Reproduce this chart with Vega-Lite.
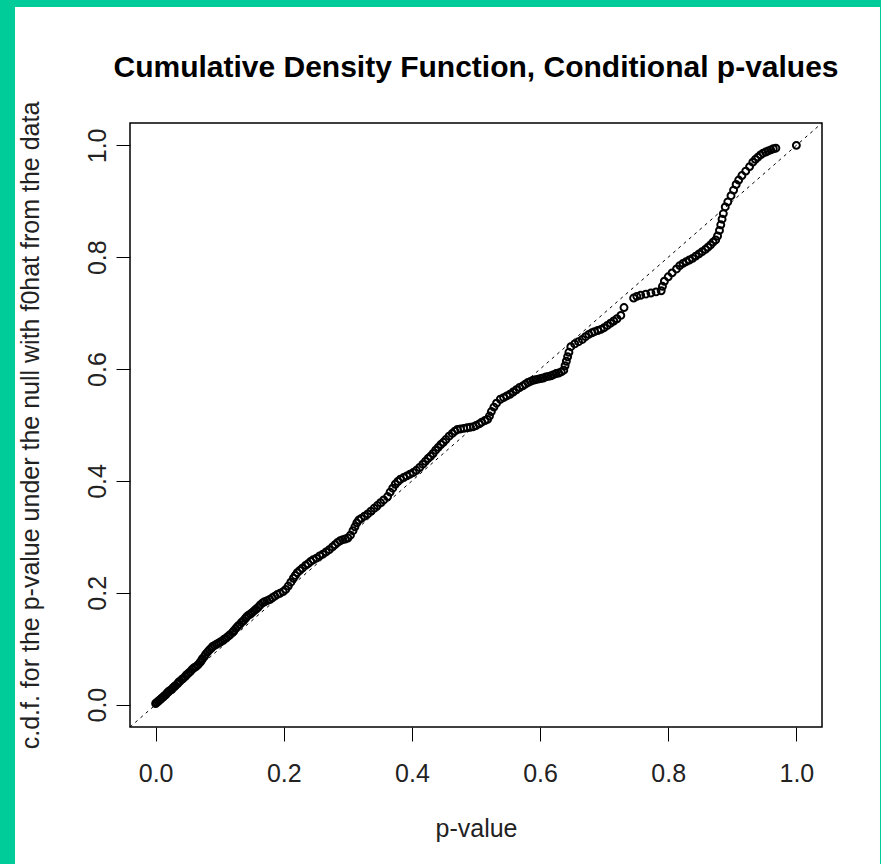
{
  "$schema": "https://vega.github.io/schema/vega-lite/v6.json",
  "autosize": {"type": "none"},
  "width": 692,
  "height": 604,
  "padding": {"left": 130, "top": 123, "right": 59, "bottom": 137},
  "background": "#00CC99",
  "title": {
    "text": "Cumulative Density Function, Conditional p-values",
    "font": "Liberation Sans",
    "fontSize": 30,
    "fontWeight": "bold",
    "color": "#000000",
    "anchor": "middle",
    "baseline": "middle",
    "offset": -91,
    "zindex": 1
  },
  "config": {
    "view": {"stroke": null},
    "axis": {"zindex": 1}
  },
  "datasets": {
    "pts": [
      {"p":0.000,"c":0.002},{"p":0.002,"c":0.004},{"p":0.004,"c":0.006},{"p":0.006,"c":0.008},{"p":0.008,"c":0.010},
      {"p":0.010,"c":0.012},{"p":0.012,"c":0.014},{"p":0.014,"c":0.016},{"p":0.016,"c":0.018},{"p":0.018,"c":0.021},
      {"p":0.020,"c":0.023},{"p":0.022,"c":0.025},{"p":0.025,"c":0.027},{"p":0.027,"c":0.030},{"p":0.029,"c":0.032},
      {"p":0.031,"c":0.034},{"p":0.034,"c":0.037},{"p":0.036,"c":0.040},{"p":0.038,"c":0.042},{"p":0.041,"c":0.045},
      {"p":0.043,"c":0.047},{"p":0.046,"c":0.050},{"p":0.048,"c":0.053},{"p":0.051,"c":0.056},{"p":0.054,"c":0.059},
      {"p":0.057,"c":0.063},{"p":0.060,"c":0.066},{"p":0.063,"c":0.068},{"p":0.066,"c":0.071},{"p":0.069,"c":0.075},
      {"p":0.071,"c":0.078},{"p":0.073,"c":0.082},{"p":0.076,"c":0.086},{"p":0.078,"c":0.090},{"p":0.081,"c":0.094},
      {"p":0.084,"c":0.098},{"p":0.087,"c":0.101},{"p":0.089,"c":0.104},{"p":0.092,"c":0.106},{"p":0.095,"c":0.108},
      {"p":0.098,"c":0.110},{"p":0.101,"c":0.112},{"p":0.104,"c":0.114},{"p":0.107,"c":0.117},{"p":0.110,"c":0.119},
      {"p":0.113,"c":0.122},{"p":0.116,"c":0.125},{"p":0.120,"c":0.129},{"p":0.122,"c":0.132},{"p":0.125,"c":0.136},
      {"p":0.128,"c":0.140},{"p":0.131,"c":0.143},{"p":0.134,"c":0.147},{"p":0.137,"c":0.150},{"p":0.140,"c":0.154},
      {"p":0.142,"c":0.157},{"p":0.145,"c":0.160},{"p":0.148,"c":0.162},{"p":0.151,"c":0.165},{"p":0.154,"c":0.168},
      {"p":0.157,"c":0.171},{"p":0.160,"c":0.174},{"p":0.163,"c":0.178},{"p":0.167,"c":0.182},{"p":0.170,"c":0.184},
      {"p":0.174,"c":0.186},{"p":0.178,"c":0.188},{"p":0.182,"c":0.191},{"p":0.186,"c":0.194},{"p":0.190,"c":0.197},
      {"p":0.194,"c":0.199},{"p":0.199,"c":0.202},
      {"p":0.203,"c":0.206},{"p":0.207,"c":0.212},{"p":0.211,"c":0.219},{"p":0.215,"c":0.226},{"p":0.218,"c":0.231},
      {"p":0.221,"c":0.236},{"p":0.225,"c":0.240},{"p":0.229,"c":0.244},{"p":0.234,"c":0.249},{"p":0.238,"c":0.252},
      {"p":0.242,"c":0.256},{"p":0.246,"c":0.259},{"p":0.251,"c":0.262},{"p":0.256,"c":0.266},{"p":0.261,"c":0.269},
      {"p":0.266,"c":0.273},{"p":0.271,"c":0.277},{"p":0.276,"c":0.282},{"p":0.280,"c":0.286},{"p":0.284,"c":0.290},
      {"p":0.288,"c":0.293},{"p":0.292,"c":0.295},{"p":0.296,"c":0.296},{"p":0.300,"c":0.298},{"p":0.304,"c":0.303},
      {"p":0.308,"c":0.311},{"p":0.311,"c":0.318},{"p":0.314,"c":0.325},{"p":0.317,"c":0.330},{"p":0.321,"c":0.333},
      {"p":0.326,"c":0.337},{"p":0.331,"c":0.341},{"p":0.336,"c":0.346},{"p":0.341,"c":0.351},{"p":0.346,"c":0.356},
      {"p":0.351,"c":0.361},{"p":0.356,"c":0.366},{"p":0.362,"c":0.372},{"p":0.366,"c":0.380},{"p":0.370,"c":0.387},
      {"p":0.374,"c":0.394},{"p":0.378,"c":0.399},{"p":0.382,"c":0.403},{"p":0.387,"c":0.406},{"p":0.392,"c":0.409},
      {"p":0.397,"c":0.412},{"p":0.402,"c":0.415},{"p":0.407,"c":0.419},{"p":0.412,"c":0.424},{"p":0.417,"c":0.430},
      {"p":0.421,"c":0.435},{"p":0.425,"c":0.440},{"p":0.429,"c":0.444},{"p":0.433,"c":0.449},{"p":0.437,"c":0.455},
      {"p":0.441,"c":0.460},{"p":0.445,"c":0.465},{"p":0.449,"c":0.469},{"p":0.453,"c":0.474},{"p":0.458,"c":0.480},
      {"p":0.463,"c":0.485},{"p":0.467,"c":0.489},{"p":0.471,"c":0.492},{"p":0.476,"c":0.493},{"p":0.481,"c":0.494},
      {"p":0.486,"c":0.495},{"p":0.491,"c":0.496},{"p":0.496,"c":0.497},{"p":0.500,"c":0.499},{"p":0.505,"c":0.502},
      {"p":0.509,"c":0.505},{"p":0.514,"c":0.508},{"p":0.518,"c":0.510},{"p":0.521,"c":0.516},{"p":0.524,"c":0.524},
      {"p":0.528,"c":0.532},{"p":0.532,"c":0.539},{"p":0.538,"c":0.546},{"p":0.543,"c":0.549},{"p":0.548,"c":0.552},
      {"p":0.553,"c":0.555},{"p":0.558,"c":0.559},{"p":0.563,"c":0.563},{"p":0.568,"c":0.567},{"p":0.573,"c":0.570},
      {"p":0.577,"c":0.573},{"p":0.581,"c":0.576},
      {"p":0.585,"c":0.578},{"p":0.589,"c":0.580},{"p":0.593,"c":0.581},{"p":0.597,"c":0.582},{"p":0.601,"c":0.583},
      {"p":0.605,"c":0.584},{"p":0.609,"c":0.586},{"p":0.613,"c":0.587},{"p":0.617,"c":0.588},{"p":0.621,"c":0.590},
      {"p":0.625,"c":0.592},{"p":0.629,"c":0.593},{"p":0.633,"c":0.595},{"p":0.637,"c":0.598},{"p":0.639,"c":0.606},
      {"p":0.641,"c":0.614},{"p":0.643,"c":0.622},{"p":0.645,"c":0.630},{"p":0.648,"c":0.640},{"p":0.654,"c":0.645},
      {"p":0.660,"c":0.649},{"p":0.666,"c":0.653},{"p":0.671,"c":0.658},{"p":0.676,"c":0.662},{"p":0.681,"c":0.665},
      {"p":0.685,"c":0.667},{"p":0.690,"c":0.669},{"p":0.695,"c":0.671},{"p":0.700,"c":0.674},{"p":0.705,"c":0.678},
      {"p":0.710,"c":0.682},{"p":0.715,"c":0.686},{"p":0.720,"c":0.690},{"p":0.726,"c":0.696},{"p":0.731,"c":0.710},
      {"p":0.746,"c":0.727},{"p":0.751,"c":0.730},{"p":0.757,"c":0.732},{"p":0.765,"c":0.734},{"p":0.773,"c":0.736},
      {"p":0.781,"c":0.738},{"p":0.789,"c":0.740},{"p":0.791,"c":0.748},{"p":0.794,"c":0.757},{"p":0.800,"c":0.765},
      {"p":0.806,"c":0.772},{"p":0.813,"c":0.779},{"p":0.818,"c":0.785},{"p":0.823,"c":0.789},{"p":0.828,"c":0.792},
      {"p":0.833,"c":0.795},{"p":0.838,"c":0.798},{"p":0.843,"c":0.802},{"p":0.848,"c":0.806},{"p":0.853,"c":0.810},
      {"p":0.858,"c":0.814},{"p":0.862,"c":0.818},{"p":0.866,"c":0.822},{"p":0.870,"c":0.827},{"p":0.874,"c":0.831},
      {"p":0.877,"c":0.838},{"p":0.880,"c":0.848},{"p":0.882,"c":0.858},{"p":0.884,"c":0.868},{"p":0.886,"c":0.878},
      {"p":0.889,"c":0.890},{"p":0.893,"c":0.899},{"p":0.898,"c":0.910},{"p":0.902,"c":0.920},{"p":0.906,"c":0.930},
      {"p":0.910,"c":0.938},{"p":0.915,"c":0.946},{"p":0.921,"c":0.954},{"p":0.927,"c":0.962},{"p":0.932,"c":0.970},
      {"p":0.936,"c":0.975},{"p":0.940,"c":0.979},{"p":0.944,"c":0.983},{"p":0.948,"c":0.986},{"p":0.952,"c":0.988},
      {"p":0.956,"c":0.990},{"p":0.960,"c":0.992},{"p":0.964,"c":0.994},{"p":0.968,"c":0.995},{"p":1.000,"c":1.000}
    ],
    "diag": [{"p": -0.04, "c": -0.04}, {"p": 1.04, "c": 1.04}]
  },
  "layer": [
    {
      "data": {"values": [{}]},
      "mark": {"type": "rect", "fill": "#ffffff", "stroke": null, "clip": false},
      "encoding": {
        "x": {"datum": -0.2195, "type": "quantitative"},
        "x2": {"datum": 1.1305},
        "y": {"datum": 1.2474, "type": "quantitative"},
        "y2": {"datum": -0.285}
      }
    },
    {
      "data": {"values": [{}]},
      "mark": {"type": "rect", "fill": null, "stroke": "#000000", "strokeWidth": 1.5, "clip": false},
      "encoding": {
        "x": {"datum": -0.04, "type": "quantitative"},
        "x2": {"datum": 1.04},
        "y": {"datum": 1.04, "type": "quantitative"},
        "y2": {"datum": -0.04}
      }
    },
    {
      "data": {"name": "diag"},
      "mark": {"type": "line", "stroke": "#000000", "strokeWidth": 1, "strokeDash": [3, 4]},
      "encoding": {
        "x": {"field": "p", "type": "quantitative"},
        "y": {"field": "c", "type": "quantitative"}
      }
    },
    {
      "data": {"name": "pts"},
      "mark": {"type": "point", "shape": "circle", "filled": false, "stroke": "#000000", "strokeWidth": 2, "size": 48, "opacity": 1},
      "encoding": {
        "x": {
          "field": "p", "type": "quantitative",
          "scale": {"domain": [-0.04, 1.04], "nice": false, "zero": false},
          "axis": {
            "title": "p-value",
            "values": [0, 0.2, 0.4, 0.6, 0.8, 1.0],
            "format": ".1f",
            "domain": false,
            "grid": false,
            "tickSize": 14,
            "tickColor": "#000000",
            "tickWidth": 1,
            "labelFont": "Liberation Sans",
            "labelFontSize": 25,
            "labelColor": "#222222",
            "labelPadding": 20,
            "titleFont": "Liberation Sans",
            "titleFontSize": 25,
            "titleFontWeight": "normal",
            "titleColor": "#222222",
            "titleX": 346,
            "titleY": 101,
            "titleAlign": "center",
            "titleBaseline": "middle",
            "zindex": 1
          }
        },
        "y": {
          "field": "c", "type": "quantitative",
          "scale": {"domain": [-0.04, 1.04], "nice": false, "zero": false},
          "axis": {
            "title": "c.d.f. for the p-value under the null with f0hat from the data",
            "values": [0, 0.2, 0.4, 0.6, 0.8, 1.0],
            "format": ".1f",
            "domain": false,
            "grid": false,
            "tickSize": 14,
            "tickColor": "#000000",
            "tickWidth": 1,
            "labelFont": "Liberation Sans",
            "labelFontSize": 25,
            "labelColor": "#222222",
            "labelAngle": -90,
            "labelAlign": "center",
            "labelBaseline": "bottom",
            "labelPadding": 6,
            "titleFont": "Liberation Sans",
            "titleFontSize": 25,
            "titleFontWeight": "normal",
            "titleColor": "#222222",
            "titleAngle": -90,
            "titleX": -100,
            "titleY": 302,
            "titleAlign": "center",
            "titleBaseline": "middle",
            "zindex": 1
          }
        }
      }
    }
  ]
}
